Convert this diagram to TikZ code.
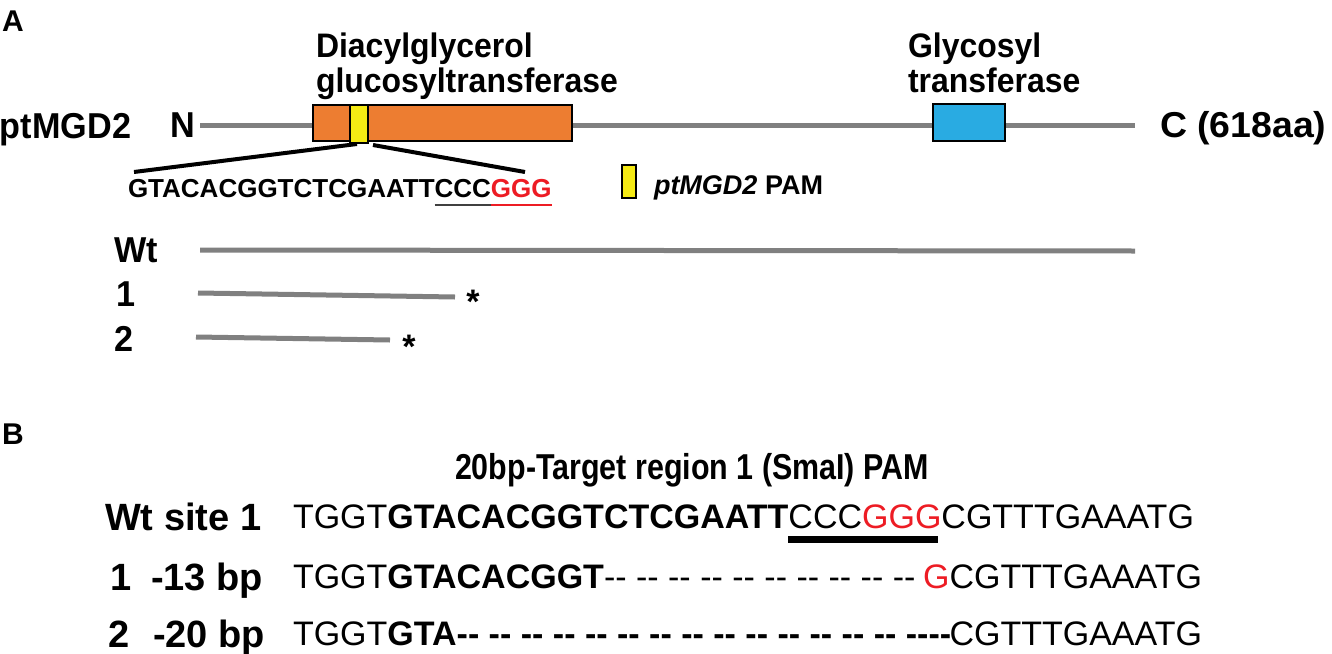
\documentclass[tikz,border=0pt]{standalone}
\usepackage{fontspec}
\setmainfont{Liberation Sans}
\usepackage{graphicx}
\usetikzlibrary{calc}
\definecolor{domorange}{HTML}{ED7D31}
\definecolor{domblue}{HTML}{29ABE2}
\definecolor{pamyellow}{HTML}{F5EA14}
\definecolor{protgray}{HTML}{808080}
\definecolor{seqred}{HTML}{ED1C24}
\newcommand{\fs}[1]{\fontsize{#1}{#1}\selectfont}
\newcommand{\sx}[2]{\scalebox{#1}[1]{#2}}
\newcommand{\dpair}{-\kern0pt-}
\begin{document}
\begin{tikzpicture}[x=1pt,y=-1pt,
  every node/.style={inner sep=0pt,outer sep=0pt},
  lab/.style={font=\bfseries\fs{34},anchor=base west},
  big/.style={font=\bfseries\fs{36},anchor=base west},
  panel/.style={font=\bfseries\fs{30},anchor=base west},
  rowlab/.style={font=\bfseries\fs{36},anchor=base west},
  blab/.style={font=\bfseries\fs{38},anchor=base west},
  protline/.style={draw=protgray,line width=5pt},
  dbox/.style={draw=black,line width=1.5pt,anchor=north west},
  zoomline/.style={draw=black,line width=4pt},
  seqA/.style={font=\bfseries\fs{26},anchor=base west},
  seqB/.style={font=\fs{34},anchor=base west},
  seqBb/.style={font=\bfseries\fs{34},anchor=base west},
  ast/.style={font=\bfseries\fs{34},anchor=base}]
\useasboundingbox (0,0) rectangle (1332,653);

% ---------- panel A ----------
\node[panel] (A) at (2,31) {A};
\node[lab] (d1) at (316,57) {\sx{0.94}{Diacylglycerol}};
\node[lab] (d2) at (316,92) {\sx{0.94}{glucosyltransferase}};
\node[lab] (g1) at (908,57) {\sx{0.94}{Glycosyl}};
\node[lab] (g2) at (908,92) {\sx{0.94}{transferase}};
\node[big] (pt) at (0,138) {\sx{0.95}{ptMGD2}};
\node[big] (N) at (170,137) {\sx{0.95}{N}};
\node[big] (C) at (1160,137) {\sx{1.04}{C (618aa)}};

\coordinate (pstart) at (200,125);
\coordinate (pend) at (1135,125);
\draw[protline] (pstart) -- (pend);
\node[dbox,fill=domorange,minimum width=259pt,minimum height=36pt] (dom1) at (313,105) {};
\node[dbox,fill=pamyellow,minimum width=18pt,minimum height=38pt] (pam) at (350,105) {};
\node[dbox,fill=domblue,minimum width=72pt,minimum height=37pt] (dom2) at (933,104) {};

\coordinate (zl) at (134,172);
\coordinate (zr) at (525,172);
\draw[zoomline] (357,144) -- (zl);
\draw[zoomline] (373,145) -- (zr);

\node[seqA] (sa1) at (128,197) {GTACACGGTCTCGAATT};
\node[seqA] (sa2) at (sa1.base east) {CCC};
\node[seqA,text=seqred] (sa3) at (sa2.base east) {GGG};
\draw[black!75,line width=1.8pt] ($(sa2.base west)+(0,8)$) -- ($(sa2.base east)+(0,8)$);
\draw[seqred,line width=1.8pt] ($(sa3.base west)+(0,8)$) -- ($(sa3.base east)+(0,8)$);

\node[dbox,fill=pamyellow,line width=1.2pt,minimum width=14pt,minimum height=33pt] (leg) at (622,165) {};
\node[font=\bfseries\fs{27},anchor=base west] (legt) at (654,194) {\textit{ptMGD2} PAM};

\node[rowlab] (wt) at (114,262) {\sx{0.95}{Wt}};
\node[rowlab] (m1) at (116,306) {\sx{0.95}{1}};
\node[rowlab] (m2) at (114,351) {\sx{0.95}{2}};
\coordinate (wa) at (200,250); \coordinate (wb) at (1135,251);
\coordinate (ma) at (198,293); \coordinate (mb) at (455,297);
\coordinate (na) at (196,337); \coordinate (nb) at (390,340);
\draw[protline] (wa) -- (wb);
\draw[protline] (ma) -- (mb);
\draw[protline] (na) -- (nb);
\node[ast] (s1) at (473,313) {*};
\node[ast] (s2) at (409,358) {*};

% ---------- panel B ----------
\node[panel] (B) at (2,444) {B};
\node[font=\bfseries\fs{36},anchor=base west] (tr) at (455,479) {\sx{0.845}{20bp-Target region 1 (SmaI) PAM}};

\node[blab] (lw) at (105,530) {Wt site 1};
\node[blab] (l1n) at (110,590) {1};
\node[blab,anchor=base east] (l1d) at (263,590) {-13 bp};
\node[blab] (l2n) at (108,647) {2};
\node[blab,anchor=base east] (l2d) at (265,647) {-20 bp};

\node[seqB] (w1) at (293,528) {TGGT};
\node[seqBb] (w2) at (w1.base east) {GTACACGGTCTCGAATT};
\node[seqB] (w3) at (w2.base east) {CCC};
\node[seqB,text=seqred] (w4) at (w3.base east) {GGG};
\node[seqB] (w5) at (w4.base east) {CGTTTGAAATG};
\draw[black,line width=7pt] ($(w3.base west)+(0,11.5)$) -- ($(w4.base east)+(-3,11.5)$);

\node[seqB] (a1) at (293,588) {TGGT};
\node[seqBb] (a2) at (a1.base east) {GTACACGGT};
\node[seqB] (a3) at (a2.base east) {\dpair{} \dpair{} \dpair{} \dpair{} \dpair{} \dpair{} \dpair{} \dpair{} \dpair{} \dpair};
\node[seqB,anchor=base east] (a5) at (1202,588) {CGTTTGAAATG};
\node[seqB,anchor=base east,text=seqred] (a4) at (a5.base west) {G};

\node[seqB] (b1) at (293,645) {TGGT};
\node[seqBb] (b2) at (b1.base east) {GTA};
\node[seqBb] (b3) at (b2.base east) {\dpair{} \dpair{} \dpair{} \dpair{} \dpair{} \dpair{} \dpair{} \dpair{} \dpair{} \dpair{} \dpair{} \dpair{} \dpair{} \dpair{} \dpair\kern0pt\dpair};
\node[seqB,anchor=base east] (b4) at (1202,645) {CGTTTGAAATG};
\end{tikzpicture}
\end{document}
